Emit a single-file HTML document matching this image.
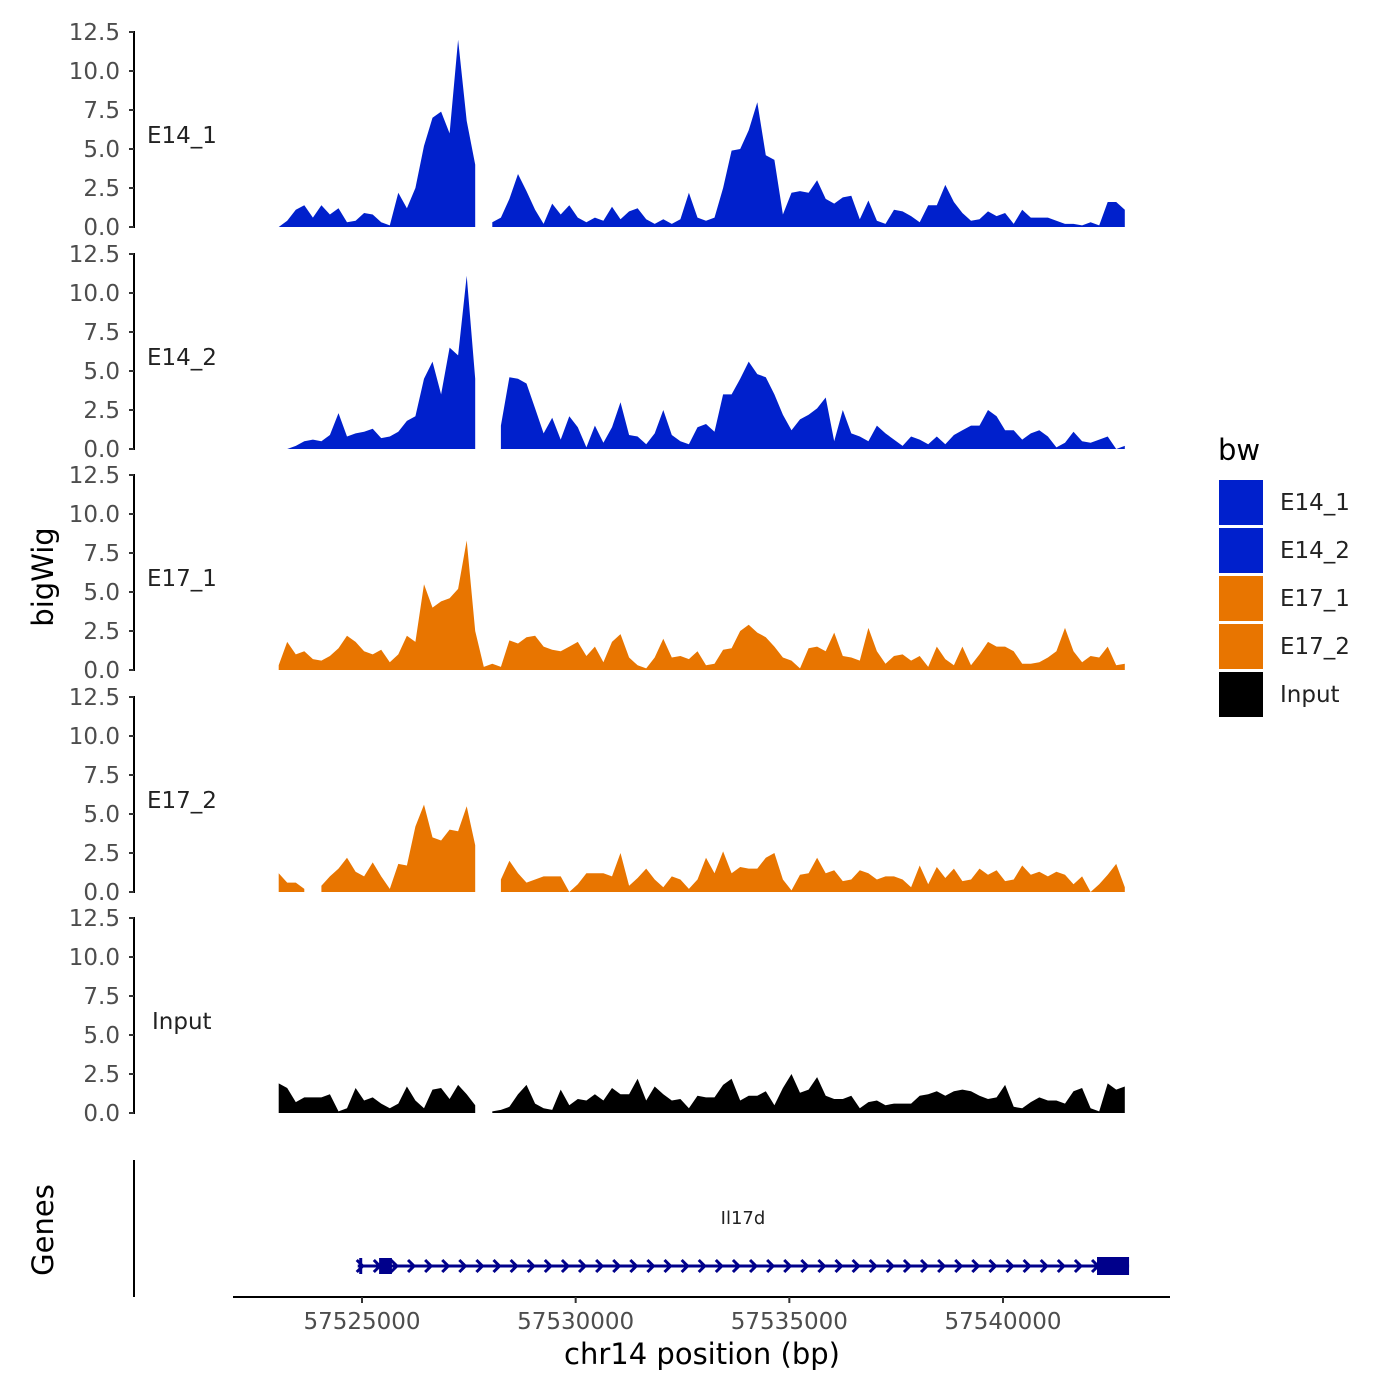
<!DOCTYPE html>
<html><head><meta charset="utf-8"><style>
body{margin:0;background:#fff}
svg{display:block;font-family:"DejaVu Sans","Liberation Sans",sans-serif}
</style></head><body>
<svg id="chart" width="1400" height="1400" viewBox="0 0 1400 1400" xmlns="http://www.w3.org/2000/svg"></svg>
<script>
const trackNames = ["E14_1","E14_2","E17_1","E17_2","Input"];
const trackColors = ["#0020CC","#0020CC","#E87500","#E87500","#000000"];
const startBp = 57523050;
const stepBp = 200;
const e14_1 = [0,0.4,1.1,1.4,0.6,1.4,0.8,1.2,0.3,0.4,0.9,0.8,0.3,0.1,2.2,1.2,2.5,5.2,7.0,7.4,6.0,12.0,6.8,4.0,null,0.3,0.6,1.8,3.4,2.3,1.1,0.2,1.5,0.8,1.4,0.6,0.3,0.6,0.4,1.3,0.5,1.0,1.2,0.5,0.2,0.5,0.2,0.5,2.2,0.6,0.4,0.6,2.5,4.9,5.0,6.2,8.0,4.6,4.3,0.8,2.2,2.3,2.2,3.0,1.8,1.5,1.9,2.0,0.5,1.7,0.4,0.2,1.1,1.0,0.7,0.3,1.4,1.4,2.7,1.6,0.9,0.4,0.5,1.0,0.7,0.9,0.2,1.1,0.6,0.6,0.6,0.4,0.2,0.2,0.1,0.3,0.1,1.6,1.6,1.1];
const e14_2 = [null,0,0.2,0.5,0.6,0.5,0.9,2.3,0.8,1.0,1.1,1.3,0.7,0.8,1.1,1.8,2.1,4.5,5.6,3.5,6.5,6.0,11.1,4.5,null,null,1.5,4.6,4.5,4.2,2.6,1.0,2.0,0.6,2.1,1.4,0.1,1.5,0.4,1.4,3.0,0.9,0.8,0.3,1.0,2.5,0.9,0.5,0.3,1.4,1.6,1.1,3.5,3.5,4.5,5.6,4.8,4.6,3.5,2.2,1.2,1.9,2.2,2.6,3.3,0.5,2.5,1.0,0.8,0.5,1.5,1.0,0.6,0.2,0.8,0.6,0.3,0.8,0.3,0.9,1.2,1.5,1.5,2.5,2.1,1.2,1.2,0.6,1.0,1.2,0.8,0.1,0.4,1.1,0.5,0.4,0.6,0.8,0,0.2];
const e17_1 = [0.3,1.8,1.0,1.2,0.7,0.6,0.9,1.4,2.2,1.8,1.2,1.0,1.3,0.5,1.0,2.2,1.8,5.5,4.0,4.4,4.6,5.2,8.3,2.5,0.2,0.4,0.2,1.9,1.7,2.1,2.2,1.5,1.3,1.2,1.5,1.8,0.9,1.5,0.5,1.8,2.3,0.8,0.3,0.1,0.8,2.0,0.8,0.9,0.7,1.2,0.3,0.4,1.3,1.4,2.5,2.9,2.4,2.1,1.5,0.8,0.6,0.1,1.4,1.5,1.2,2.4,0.9,0.8,0.6,2.7,1.2,0.4,0.9,1.0,0.6,0.9,0.2,1.5,0.7,0.3,1.5,0.3,1.0,1.8,1.5,1.5,1.2,0.4,0.4,0.5,0.8,1.2,2.7,1.2,0.5,0.9,0.8,1.5,0.3,0.4];
const e17_2 = [1.2,0.6,0.6,0.2,null,0.4,1.0,1.5,2.2,1.3,1.0,1.9,1.0,0.2,1.8,1.7,4.2,5.6,3.5,3.3,4.0,3.9,5.5,3.0,null,null,0.8,2.0,1.2,0.6,0.8,1.0,1.0,1.0,0,0.5,1.2,1.2,1.2,1.0,2.5,0.4,0.9,1.5,0.8,0.3,1.0,0.8,0.2,0.8,2.2,1.2,2.6,1.2,1.6,1.5,1.5,2.2,2.5,0.8,0.1,1.1,1.2,2.2,1.2,1.4,0.7,0.8,1.4,1.2,0.8,1.0,1.0,0.8,0.3,1.7,0.5,1.6,0.9,1.5,0.7,0.8,1.5,1.1,1.4,0.7,0.8,1.7,1.1,1.3,1.0,1.3,1.1,0.5,1.0,0,0.5,1.1,1.8,0.3];
const input = [1.9,1.6,0.7,1.0,1.0,1.0,1.2,0.1,0.3,1.6,0.8,1.0,0.6,0.3,0.6,1.7,0.8,0.3,1.5,1.6,0.9,1.8,1.2,0.5,null,0.1,0.2,0.4,1.2,1.8,0.6,0.3,0.2,1.5,0.5,0.9,0.8,1.2,0.8,1.6,1.2,1.2,2.2,0.8,1.7,1.2,0.8,0.9,0.3,1.1,1.0,1.0,1.8,2.2,0.8,1.1,1.1,1.4,0.5,1.6,2.5,1.3,1.5,2.3,1.1,0.9,0.9,1.1,0.3,0.7,0.8,0.5,0.6,0.6,0.6,1.1,1.2,1.4,1.1,1.4,1.5,1.4,1.1,0.9,1.0,1.8,0.4,0.3,0.7,1.0,0.8,0.8,0.6,1.4,1.6,0.3,0.1,1.9,1.5,1.7];
const trackValues = [e14_1,e14_2,e17_1,e17_2,input];
const yTicks = [0,2.5,5,7.5,10,12.5];
const yTickLabels = ["0.0","2.5","5.0","7.5","10.0","12.5"];
const xTicks = [57525000,57530000,57535000,57540000];
const geneStart = 57524900, geneEnd = 57542950;
const exons = [[57525400,57525700],[57542200,57542950]];

const NS="http://www.w3.org/2000/svg";
const svg=document.getElementById('chart');
function el(t,a,p){const e=document.createElementNS(NS,t);for(const k in a)e.setAttribute(k,a[k]);(p||svg).appendChild(e);return e;}
const xScale = bp => 362 + (bp-57525000)*641/15000;
const baselines=[227,449,670,892,1113];
const pxPerUnit=15.6;
const axisX=134;

trackNames.forEach((name,t)=>{
  const b=baselines[t];
  const yScale=v=>b-v*pxPerUnit;
  const g=el('g',{});
  
  
  const ax=el('line',{x1:axisX,x2:axisX,y1:yScale(12.5)-1,y2:b+1,stroke:'#000','stroke-width':2},g);
  
  
  yTicks.forEach((v,i)=>{
    el('line',{x1:axisX-5,x2:axisX,y1:yScale(v),y2:yScale(v),stroke:'#333','stroke-width':2},g);
    const tx=el('text',{x:axisX-14,y:yScale(v)+8,'text-anchor':'end','font-size':23,fill:'#4d4d4d'},g);
    tx.textContent=yTickLabels[i];
    
    
  });
  const lab=el('text',{x:name==='Input'?152:147,y:name==='Input'?b-84:b-84,'font-size':23,fill:'#222'},g);
  lab.textContent=name;
  
  
  const vals=trackValues[t];
  let seg=[];
  const segs=[];
  vals.forEach((v,i)=>{
    if(v===null){if(seg.length)segs.push(seg);seg=[];}
    else seg.push([xScale(startBp+i*stepBp),yScale(v)]);
  });
  if(seg.length)segs.push(seg);
  segs.forEach(s=>{
    let d='M'+s[0][0].toFixed(1)+','+b;
    s.forEach(p=>{d+=' L'+p[0].toFixed(1)+','+p[1].toFixed(1);});
    d+=' L'+s[s.length-1][0].toFixed(1)+','+b+' Z';
    const a=el('path',{d:d,fill:trackColors[t]},g);
    
    
  });
});

const yt=el('text',{x:0,y:0,transform:'translate(53,577) rotate(-90)','text-anchor':'middle','font-size':29,fill:'#000'});
yt.textContent='bigWig';


const gt=el('text',{x:0,y:0,transform:'translate(53,1230) rotate(-90)','text-anchor':'middle','font-size':29,fill:'#000'});
gt.textContent='Genes';


const ga=el('line',{x1:axisX,x2:axisX,y1:1160,y2:1297,stroke:'#000','stroke-width':2});



const gg=el('g',{});


const gy=1266, gcol='#00008B';
el('line',{x1:xScale(geneStart),x2:xScale(geneEnd),y1:gy,y2:gy,stroke:gcol,'stroke-width':3},gg);
el('line',{x1:xScale(geneStart)+3,x2:xScale(geneStart)+3,y1:gy-8,y2:gy+8,stroke:gcol,'stroke-width':3},gg);
for(let x=xScale(geneStart)+2;x<xScale(geneEnd)-10;x+=17.1){
  el('polyline',{points:`${x-3},${gy-6} ${x+3},${gy} ${x-3},${gy+6}`,fill:'none',stroke:gcol,'stroke-width':3},gg);
}
el('rect',{x:xScale(exons[0][0]),y:gy-8,width:xScale(exons[0][1])-xScale(exons[0][0]),height:16,fill:gcol},gg);
el('rect',{x:xScale(exons[1][0]),y:gy-9,width:xScale(exons[1][1])-xScale(exons[1][0]),height:18,fill:gcol},gg);
const gl=el('text',{x:743,y:1224,'text-anchor':'middle','font-size':18,fill:'#222'},gg);
gl.textContent='Il17d';



const xa=el('line',{x1:233,x2:1170,y1:1297,y2:1297,stroke:'#000','stroke-width':2});


xTicks.forEach(v=>{
  el('line',{x1:xScale(v),x2:xScale(v),y1:1297,y2:1303,stroke:'#333','stroke-width':2});
  const t=el('text',{x:xScale(v),y:1329,'text-anchor':'middle','font-size':23,fill:'#4d4d4d'});
  t.textContent=String(v);
  
  
});
const xt=el('text',{x:702,y:1364,'text-anchor':'middle','font-size':29,fill:'#000'});
xt.textContent='chr14 position (bp)';



const lg=el('g',{});


const ltitle=el('text',{x:1218,y:460,'font-size':29,fill:'#000'},lg);
ltitle.textContent='bw';


trackNames.forEach((n,i)=>{
  const y=480+i*48;
  const k=el('rect',{x:1219,y:y,width:44,height:45,fill:trackColors[i]},lg);
  
  
  const t=el('text',{x:1280,y:y+30,'font-size':23,fill:'#222'},lg);
  t.textContent=n;
  
  
});
</script>
</body></html>
